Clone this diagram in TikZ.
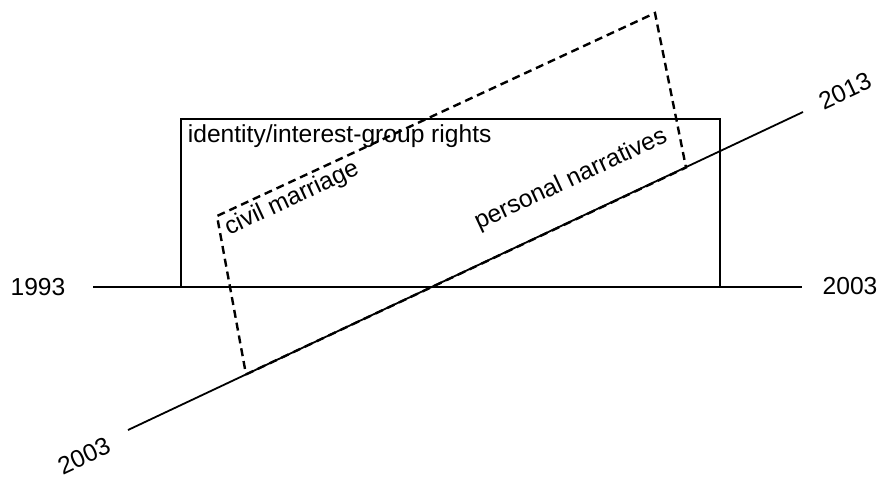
\documentclass[tikz,border=0pt]{standalone}
\usepackage{fontspec}
\setmainfont{Liberation Sans}
\begin{document}
\begin{tikzpicture}[x=0.5pt,y=-0.5pt,line width=0.9pt]
\tikzstyle{lbl}=[font=\fontsize{12.3}{14}\selectfont,inner sep=0pt]
\tikzstyle{frame}=[draw,line width=1.2pt]
\tikzstyle{shifted}=[draw,line width=1.2pt,dash pattern=on 4pt off 2.5pt]
\useasboundingbox (0,0) rectangle (883,479);
% time axes
\coordinate (h0) at (93,287);
\coordinate (h1) at (802,287);
\coordinate (d0) at (128,430);
\coordinate (d1) at (803,112);
\node[lbl] (y1993) at (38,287) {1993};
\node[lbl] (y2003a) at (850,286) {2003};
\node[lbl,rotate=25] (y2003b) at (84,456) {2003};
\node[lbl,rotate=25] (y2013) at (845,91) {2013};
\draw (h0) -- (h1);
\draw (d0) -- (d1);
% rights frame
\coordinate (r0) at (181,119);
\coordinate (r1) at (720,287);
\draw[frame] (r0) rectangle (r1);
\node[lbl,anchor=base west] (rights) at (187,142) {identity/interest-group rights};
% shifted frame
\coordinate (s0) at (246,374.4);
\coordinate (s1) at (686,167.5);
\coordinate (s2) at (655,13);
\coordinate (s3) at (217,216);
\draw[shifted] (s0) -- (s1) -- (s2) -- (s3) -- cycle;
\node[lbl,rotate=25] (civil) at (292,199) {civil marriage};
\node[lbl,rotate=25] (narr) at (571,180) {personal narratives};
\end{tikzpicture}
\end{document}
